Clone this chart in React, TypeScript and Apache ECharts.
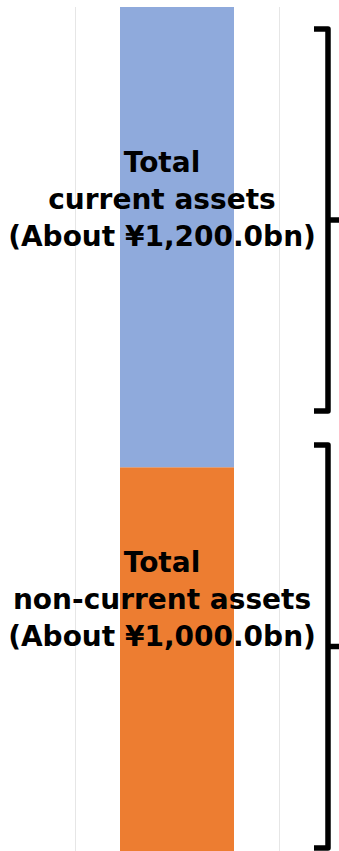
import React, { useEffect, useRef } from "react";
import * as echarts from "echarts";

// Balance sheet: asset side split into its two totals (¥ bn)
const categories = ["Assets"];
const nonCurrentAssets = [1000];
const currentAssets = [1200];
const nonCurrentName = "non-current assets";
const currentName = "current assets";

const fmt = (v: number) =>
  v.toLocaleString("en-US", { minimumFractionDigits: 1, maximumFractionDigits: 1 });

const labelStyle = {
  show: true,
  position: "inside" as const,
  color: "#000",
  fontFamily: "DejaVu Sans",
  fontWeight: "bold" as const,
  fontSize: 28,
  lineHeight: 37,
  align: "center" as const,
};

export default function App() {
  const ref = useRef<HTMLDivElement>(null);

  useEffect(() => {
    if (!ref.current) return;
    const chart = echarts.init(ref.current, null, { renderer: "svg" });

    // curly-brace style brackets to the right of the bar
    const brace = (top: number, bottom: number) => {
      const mid = (top + bottom) / 2;
      return [
        {
          type: "polyline",
          shape: {
            points: [
              [314, top],
              [328, top],
              [328, bottom],
              [314, bottom],
            ],
          },
          style: { stroke: "#000", lineWidth: 5.5, fill: "none", lineJoin: "round" },
        },
        {
          type: "line",
          shape: { x1: 328, y1: mid, x2: 342, y2: mid },
          style: { stroke: "#000", lineWidth: 5.5 },
        },
      ];
    };

    chart.setOption({
      animation: false,
      grid: { left: 75, width: 204, top: 7, height: 845 },
      xAxis: {
        type: "category",
        data: categories,
        axisLine: { show: false },
        axisTick: { show: false },
        axisLabel: { show: false },
        splitLine: { show: true, lineStyle: { color: "#e6e6e6", width: 1 } },
      },
      yAxis: {
        type: "value",
        min: 0,
        max: 2200,
        show: false,
        splitLine: { show: false },
      },
      series: [
        {
          name: nonCurrentName,
          type: "bar",
          stack: "assets",
          barWidth: 114,
          data: nonCurrentAssets,
          itemStyle: { color: "#ED7D31" },
          label: {
            ...labelStyle,
            offset: [-15, -60],
            formatter: (p: any) => `Total\n${nonCurrentName}\n(About ¥${fmt(p.value)}bn)`,
          },
        },
        {
          name: currentName,
          type: "bar",
          stack: "assets",
          barWidth: 114,
          data: currentAssets,
          itemStyle: { color: "#8FAADC" },
          label: {
            ...labelStyle,
            offset: [-15, -38],
            formatter: (p: any) => `Total\n${currentName}\n(About ¥${fmt(p.value)}bn)`,
          },
        },
      ],
      graphic: [...brace(29, 411), ...brace(445, 848)],
    });

    return () => chart.dispose();
  }, []);

  return (
    <div
      ref={ref}
      style={{ position: "fixed", left: 0, top: 0, width: 339, height: 851, background: "#fff" }}
    />
  );
}
